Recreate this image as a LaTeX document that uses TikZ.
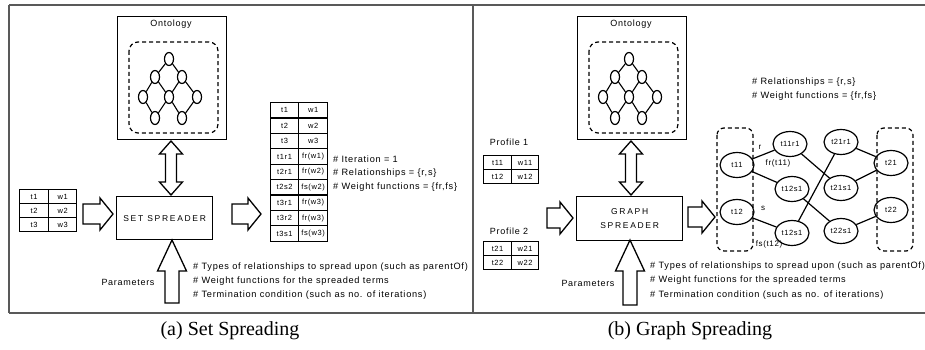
\documentclass[tikz,border=0pt]{standalone}
\usepackage{fontspec}
\setmainfont{Liberation Serif}
\newfontfamily\diagfont[LetterSpace=8]{Liberation Sans}
\newfontfamily\widefont[LetterSpace=20]{Liberation Sans}
\usetikzlibrary{shapes.geometric,calc}

\tikzset{
  box/.style={draw, line width=1.3pt, inner sep=0pt},
  cell/.style={draw, line width=1.2pt, inner sep=0pt, minimum height=14, font=\fontsize{7.5}{8}\diagfont},
  onode/.style={draw, ellipse, line width=1.2pt, inner sep=0pt, minimum width=9, minimum height=13},
  gnode/.style={draw, ellipse, line width=1.2pt, inner sep=0pt, minimum width=34, minimum height=25, font=\fontsize{7.5}{8}\diagfont},
  fat/.style={draw, line width=1.3pt, fill=white, line join=miter},
  group/.style={draw, dashed, line width=1.2pt, dash pattern=on 4pt off 3pt, rounded corners=7},
  note/.style={anchor=west, inner sep=0pt, font=\fontsize{9.2}{10}\diagfont},
  lbl/.style={font=\fontsize{9}{10}\diagfont},
  frame/.style={draw=black!65, line width=1.4pt}
}

% hollow arrows: start, tip, centre
\newcommand{\fatright}[3]{%
  \draw[fat] (#1,#3-10) -- (#2-13,#3-10) -- (#2-13,#3-16) -- (#2,#3)
    -- (#2-13,#3+16) -- (#2-13,#3+10) -- (#1,#3+10) -- cycle;}
\newcommand{\fatup}[3]{%
  \draw[fat] (#1-7,#2) -- (#1-7,#3+31) -- (#1-14.5,#3+31) -- (#1,#3)
    -- (#1+14.5,#3+31) -- (#1+7,#3+31) -- (#1+7,#2) -- cycle;}
\newcommand{\fatboth}[3]{%
  \draw[fat] (#1,#2) -- (#1+11.5,#2+13) -- (#1+5.5,#2+13) -- (#1+5.5,#3-13)
    -- (#1+11.5,#3-13) -- (#1,#3) -- (#1-11.5,#3-13) -- (#1-5.5,#3-13)
    -- (#1-5.5,#2+13) -- (#1-11.5,#2+13) -- cycle;}

% ontology box with its small graph
\newcommand{\ontology}[2]{%
  \begin{scope}[xshift=#2]
    \node[box, minimum width=109, minimum height=123, anchor=north west] (#1box) at (117,16) {};
    \node[lbl] (#1title) at (171,24) {Ontology};
    \draw[group, rounded corners=9] (129,42) rectangle (218,133);
    \node[onode] (#1a) at (169,59) {};
    \node[onode] (#1b) at (155,77) {};
    \node[onode] (#1c) at (182,77) {};
    \node[onode] (#1d) at (143,97) {};
    \node[onode] (#1e) at (169,97) {};
    \node[onode] (#1f) at (197,97) {};
    \node[onode] (#1g) at (155,118) {};
    \node[onode] (#1h) at (182,118) {};
    \foreach \u/\v in {a/b,a/c,b/d,b/e,c/e,c/f,d/g,e/g,e/h,f/h}
      \draw[line width=1.1pt] (#1\u) -- (#1\v);
  \end{scope}}

\begin{document}
\begin{tikzpicture}[x=1pt,y=-1pt]
  \useasboundingbox (0,0) rectangle (925,350);

  % frames
  \draw[frame] (9,5) -- (925,5);
  \draw[frame] (9,313) -- (925,313);
  \draw[frame] (9,5) -- (9,313);
  \draw[frame, line width=2.4pt] (473,5) -- (473,313);

  % ---------------- (a) set spreading ----------------
  \ontology{oa}{0}
  \node[box, minimum width=96, minimum height=43, anchor=north west,
        font=\fontsize{8.5}{10}\widefont] (setsp) at (116,196) {SET SPREADER};
  \fatboth{171}{141}{195}

  \foreach \t/\w [count=\i] in {t1/w1,t2/w2,t3/w3} {
    \node[cell, minimum width=29, anchor=north west] (ina\i) at (19,{189+14*(\i-1)}) {\t};
    \node[cell, minimum width=28, anchor=north west] (inb\i) at (48,{189+14*(\i-1)}) {\w};
  }
  \fatright{83}{113}{214}
  \fatright{232}{261}{214}

  \foreach \t/\w [count=\i] in {t1/w1,t2/w2,t3/w3,t1r1/fr(w1),t2r1/fr(w2),t2s2/fs(w2),t3r1/fr(w3),t3r2/fr(w3),t3s1/fs(w3)} {
    \node[cell, minimum height=15.4, minimum width=28, anchor=north west] (outa\i) at (270,{102+15.4*(\i-1)}) {\t};
    \node[cell, minimum height=15.4, minimum width=29, anchor=north west] (outb\i) at (298,{102+15.4*(\i-1)}) {\w};
  }
  \node[note] (itera) at (333,159) {\# Iteration = 1};
  \node[note] (rela) at (333,173) {\# Relationships = \{r,s\}};
  \node[note] (wfa) at (333,187) {\# Weight functions = \{fr,fs\}};

  \fatup{172}{303}{240}
  \node[lbl] (para) at (128,282) {Parameters};
  \node[note] (pa1) at (193,267) {\# Types of relationships to spread upon (such as parentOf)};
  \node[note] (pa2) at (193,281) {\# Weight functions for the spreaded terms};
  \node[note] (pa3) at (193,295) {\# Termination condition (such as no. of iterations)};

  \node[font=\fontsize{20}{22}\selectfont] (capa) at (230,331) {(a) Set Spreading};

  % ---------------- (b) graph spreading ----------------
  \ontology{ob}{460}
  \node[box, minimum width=106, minimum height=44, anchor=north west, align=center,
        font=\fontsize{8.5}{14}\widefont] (graphsp) at (576,196) {GRAPH\\SPREADER};
  \fatboth{631}{141}{195}

  \node[lbl] (prof1) at (509,142) {Profile 1};
  \node[lbl] (prof2) at (509,231) {Profile 2};
  \foreach \t/\w [count=\i] in {t11/w11,t12/w12} {
    \node[cell, minimum width=28, anchor=north west] (pa\i) at (483,{155+14*(\i-1)}) {\t};
    \node[cell, minimum width=27, anchor=north west] (pb\i) at (511,{155+14*(\i-1)}) {\w};
  }
  \foreach \t/\w [count=\i] in {t21/w21,t22/w22} {
    \node[cell, minimum width=28, anchor=north west] (qa\i) at (483,{241+14*(\i-1)}) {\t};
    \node[cell, minimum width=27, anchor=north west] (qb\i) at (511,{241+14*(\i-1)}) {\w};
  }
  \fatright{547}{573}{218}
  \fatright{688}{715}{217}

  \node[note] (relb) at (752,82) {\# Relationships = \{r,s\}};
  \node[note] (wfb) at (752,96) {\# Weight functions = \{fr,fs\}};

  \draw[group] (717,128) rectangle (753,251);
  \draw[group] (877,128) rectangle (913,251);
  \node[gnode] (g11) at (737,165) {t11};
  \node[gnode] (g12) at (737,212) {t12};
  \node[gnode] (g11r1) at (790,144) {t11r1};
  \node[gnode] (g12s1) at (792,189) {t12s1};
  \node[gnode] (g12s1b) at (792,233) {t12s1};
  \node[gnode] (g21r1) at (841,142) {t21r1};
  \node[gnode] (g21s1) at (841,188) {t21s1};
  \node[gnode] (g22s1) at (841,231) {t22s1};
  \node[gnode] (g21) at (891,163) {t21};
  \node[gnode] (g22) at (891,210) {t22};
  \foreach \u/\v in {g11/g11r1,g11/g12s1,g12/g12s1b,g11r1/g21s1,g12s1/g22s1,g12s1b/g21r1,g21r1/g21,g21s1/g21,g22s1/g22}
    \draw[line width=1.2pt] (\u) -- (\v);
  \node[font=\fontsize{8}{9}\diagfont] (lr) at (760,147) {r};
  \node[font=\fontsize{8}{9}\diagfont] (lfr) at (778,163) {fr(t11)};
  \node[font=\fontsize{8}{9}\diagfont] (ls) at (763,208) {s};
  \node[font=\fontsize{8}{9}\diagfont] (lfs) at (769,244) {fs(t12)};

  \fatup{630}{305}{240}
  \node[lbl] (parb) at (588,283) {Parameters};
  \node[note] (pb1) at (650,266) {\# Types of relationships to spread upon (such as parentOf)};
  \node[note] (pb2) at (650,280) {\# Weight functions for the spreaded terms};
  \node[note] (pb3) at (650,295) {\# Termination condition (such as no. of iterations)};

  \node[font=\fontsize{20}{22}\selectfont] (capb) at (690,331) {(b) Graph Spreading};
\end{tikzpicture}
\end{document}
